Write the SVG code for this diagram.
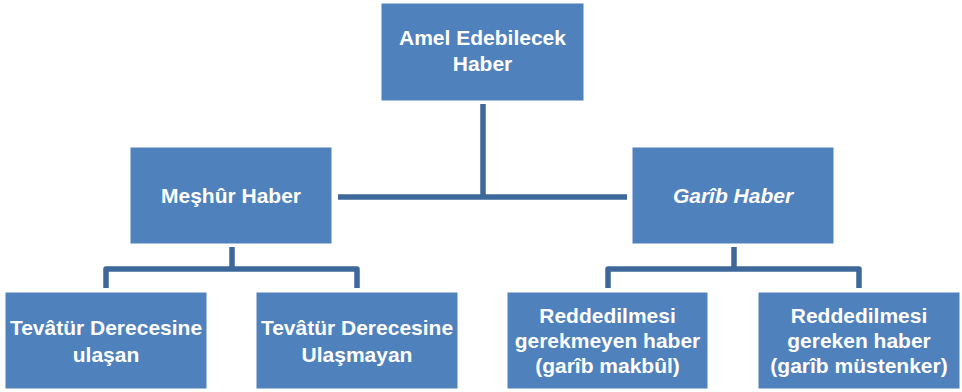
<svg xmlns="http://www.w3.org/2000/svg" width="962" height="392" viewBox="0 0 962 392">
<style>
.box{fill:#4F81BD;stroke:#FFFFFF;stroke-width:1}
.t{font-family:"Liberation Sans",Arial,sans-serif;font-weight:bold;font-size:21px;fill:#FFFFFF;text-anchor:middle}
.it{font-style:italic}
.c{fill:none;stroke:#3D6899;stroke-width:5.5;stroke-linejoin:round}
</style>
<rect width="962" height="392" fill="#FFFFFF"/>
<g id="connectors">
<path class="c" d="M483 104 V197"/>
<path class="c" d="M338 197 H627"/>
<path class="c" d="M232 247 V269 M106 288 V269 H357 V288"/>
<path class="c" d="M734 247 V269 M608 288 V269 H859 V288"/>
</g>
<g id="amel">
<rect class="box" x="381" y="3" width="203" height="98"/>
<text class="t" x="482.5" y="45">Amel Edebilecek</text>
<text class="t" x="482.5" y="71">Haber</text>
</g>
<g id="meshur">
<rect class="box" x="130" y="147" width="202" height="97"/>
<text class="t" x="231" y="203">Meşhûr Haber</text>
</g>
<g id="garib">
<rect class="box" x="632" y="147" width="202" height="97"/>
<text class="t it" x="733" y="203">Garîb Haber</text>
</g>
<g id="tevatur1">
<rect class="box" x="5" y="292" width="202" height="97"/>
<text class="t" x="106" y="335">Tevâtür Derecesine</text>
<text class="t" x="106" y="362">ulaşan</text>
</g>
<g id="tevatur2">
<rect class="box" x="256" y="292" width="202" height="97"/>
<text class="t" x="357" y="335">Tevâtür Derecesine</text>
<text class="t" x="357" y="362">Ulaşmayan</text>
</g>
<g id="makbul">
<rect class="box" x="507" y="292" width="201" height="97"/>
<text class="t" x="607.5" y="323">Reddedilmesi</text>
<text class="t" x="607.5" y="348">gerekmeyen haber</text>
<text class="t" x="607.5" y="373">(garîb makbûl)</text>
</g>
<g id="mustenker">
<rect class="box" x="758" y="292" width="202" height="97"/>
<text class="t" x="859" y="323">Reddedilmesi</text>
<text class="t" x="859" y="348">gereken haber</text>
<text class="t" x="859" y="373">(garîb müstenker)</text>
</g>
</svg>
